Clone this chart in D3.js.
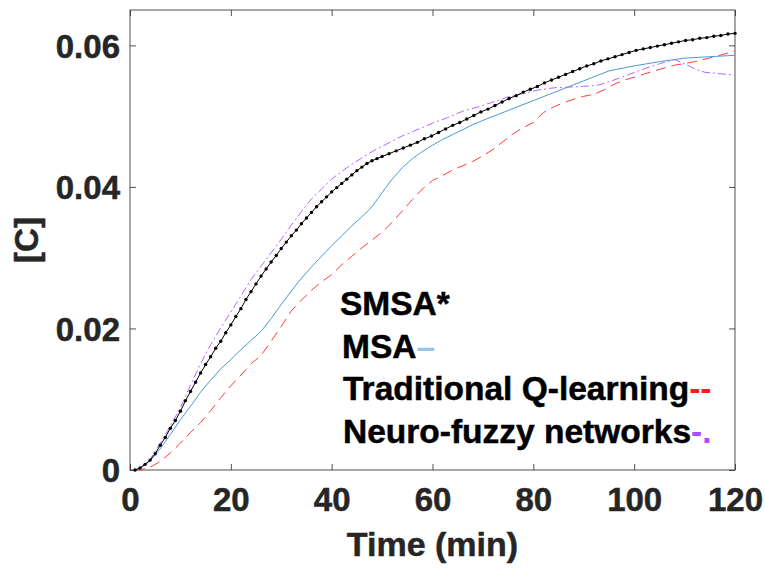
<!DOCTYPE html>
<html>
<head>
<meta charset="utf-8">
<script src="https://cdn.jsdelivr.net/npm/d3@7"></script>
<style>
  html, body { margin: 0; padding: 0; background: #fff; }
  svg { display: block; }
  text { font-family: "Liberation Sans", Arial, Helvetica, sans-serif; font-weight: bold; }
</style>
</head>
<body>
<svg id="chart" width="765" height="572"></svg>
<script>
// Axis ticks
const xTicks = [0, 20, 40, 60, 80, 100, 120];
const yTicks = [0, 0.02, 0.04, 0.06];
const yTickLabels = ["0", "0.02", "0.04", "0.06"];

// SMSA* (marked every sample)
const smsaTime = [1,2,3,4,5,6,7,8,9,10,11,12,13,14,15,16,17,18,19,20,
  21,22,23,24,25,26,27,28,29,30,31,32,33,34,35,36,37,38,39,40,
  41,42,43,44,45,46,47,48,49,50,
  51.4,52.8,54.2,55.6,57,58.4,59.8,61.2,62.6,64,65.4,66.8,68.2,69.6,71,72.4,73.8,75.2,76.6,78,
  79.4,80.8,82.2,83.6,85,86.4,87.8,89.2,90.6,92,93.4,94.8,96.2,97.6,99,100.4,101.8,103.2,104.6,106,
  107.4,108.8,110.2,111.6,113,114.4,115.8,117.2,118.6,120];
const smsaValue = [0.0000,0.0003,0.0008,0.0014,0.0023,0.0035,0.0046,0.0059,0.0070,0.0083,
  0.0098,0.0111,0.0124,0.0137,0.0149,0.0160,0.0172,0.0182,0.0194,0.0205,
  0.0217,0.0228,0.0241,0.0252,0.0263,0.0274,0.0284,0.0294,0.0303,0.0313,
  0.0322,0.0331,0.0339,0.0348,0.0356,0.0364,0.0372,0.0379,0.0386,0.0393,
  0.0399,0.0405,0.0411,0.0417,0.0423,0.0428,0.0433,0.0437,0.0440,0.0443,
  0.0447,0.0451,0.0455,0.0459,0.0463,0.0468,0.0472,0.0477,0.0482,0.0487,
  0.0491,0.0496,0.0501,0.0506,0.0510,0.0515,0.0520,0.0525,0.0529,0.0534,
  0.0538,0.0542,0.0547,0.0551,0.0555,0.0559,0.0563,0.0567,0.0571,0.0574,
  0.0578,0.0581,0.0584,0.0587,0.0590,0.0593,0.0595,0.0597,0.0599,0.0601,
  0.0603,0.0605,0.0607,0.0608,0.0610,0.0611,0.0613,0.0614,0.0616,0.0617];

// MSA
const msaTime = [1,2,4,6,8,10,12,14,16,18,20,22,24,26,28,30,32,34,36,38,40,42,44,46,48,
  50,52,54,56,58,60,62,64,66,68,70,75,80,85,90,95,100,105,110,115,120];
const msaValue = [0,0.0002,0.0013,0.0030,0.0050,0.0071,0.0090,0.0110,0.0127,0.0143,0.0156,
  0.0170,0.0183,0.0196,0.0214,0.0234,0.0253,0.0271,0.0287,0.0302,0.0317,0.0331,0.0345,0.0358,0.0372,
  0.0392,0.0411,0.0427,0.0440,0.0450,0.0459,0.0467,0.0474,0.0481,0.0488,0.0494,
  0.0508,0.0522,0.0536,0.0550,0.0564,0.0571,0.0577,0.0582,0.0584,0.0586];

// Traditional Q-learning
const qlTime = [1,2,4,6,8,10,12,14,16,18,20,22,24,26,28,30,32,34,36,38,40,42,44,46,48,
  50,52,54,56,58,60,62,64,66,68,70,72,74,76,78,80,82,84,86,88,90,92,94,96,98,100,
  104,108,112,116,120];
const qlValue = [0,0,0.0004,0.0012,0.0024,0.0038,0.0053,0.0067,0.0084,0.0102,0.0119,
  0.0134,0.0150,0.0162,0.0182,0.0203,0.0225,0.0240,0.0254,0.0266,0.0276,0.0290,0.0302,0.0314,0.0325,
  0.0336,0.0350,0.0366,0.0382,0.0397,0.0409,0.0416,0.0424,0.0430,0.0436,0.0444,0.0453,0.0464,0.0475,
  0.0484,0.0491,0.0505,0.0513,0.0519,0.0524,0.0528,0.0531,0.0537,0.0545,0.0551,0.0555,
  0.0564,0.0572,0.0577,0.0584,0.0592];

// Neuro-fuzzy networks
const nfTime = [1,2,4,6,8,10,12,14,16,18,20,22,24,26,28,30,32,34,36,38,40,42,44,46,48,
  50,52,54,56,58,60,63,66,69,72,75,78,81,84,87,90,93,96,99,102,105,108,110,112,114,117,120];
const nfValue = [0,0.0002,0.0015,0.0038,0.0062,0.0088,0.0120,0.0150,0.0177,0.0201,0.0223,
  0.0246,0.0269,0.0288,0.0307,0.0326,0.0346,0.0365,0.0383,0.0397,0.0411,0.0422,0.0432,0.0441,0.0450,
  0.0457,0.0465,0.0472,0.0478,0.0484,0.0490,0.0498,0.0507,0.0513,0.0520,0.0527,0.0532,0.0537,0.0540,
  0.0541,0.0542,0.0544,0.0551,0.0559,0.0567,0.0574,0.0580,0.0574,0.0567,0.0562,0.0560,0.0558];

const svg = d3.select("#chart");
const margin = { left: 130, right: 30, top: 10, bottom: 102 };
const W = 765, H = 572;
const x = d3.scaleLinear().domain([0, 120]).range([margin.left, W - margin.right]);
const y = d3.scaleLinear().domain([0, 0.065]).range([H - margin.bottom, margin.top]);

const axisColor = "#262626";
const fontStack = "'Liberation Sans', Arial, Helvetica, sans-serif";

// Frame
svg.append("rect")
  .attr("x", x(0)).attr("y", y(0.065))
  .attr("width", x(120) - x(0)).attr("height", y(0) - y(0.065))
  .attr("fill", "none").attr("stroke", axisColor).attr("stroke-width", 0.8);

// Inward ticks on all four sides
const tickLen = 6;
const bottomAxis = d3.axisBottom(x).tickValues(xTicks).tickSize(-tickLen).tickFormat(d => d);
const topAxis = d3.axisTop(x).tickValues(xTicks).tickSize(-tickLen).tickFormat("");
const leftAxis = d3.axisLeft(y).tickValues(yTicks).tickSize(-tickLen)
  .tickFormat((d, i) => yTickLabels[i]);
const rightAxis = d3.axisRight(y).tickValues(yTicks).tickSize(-tickLen).tickFormat("");

function styleAxis(g) {
  g.select(".domain").remove();
  g.selectAll(".tick line").attr("stroke", axisColor).attr("stroke-width", 0.8);
  g.selectAll(".tick text")
    .attr("fill", axisColor)
    .attr("stroke", axisColor).attr("stroke-width", 0.5)
    .style("font-size", "33px")
    .style("font-weight", "bold")
    .style("font-family", fontStack);
}

svg.append("g").attr("transform", `translate(0,${y(0)})`).call(bottomAxis).call(styleAxis)
  .selectAll(".tick text").attr("y", 18).attr("dy", "0.71em");
svg.append("g").attr("transform", `translate(0,${y(0.065)})`).call(topAxis).call(styleAxis);
svg.append("g").attr("transform", `translate(${x(0)},0)`).call(leftAxis).call(styleAxis)
  .selectAll(".tick text").attr("x", -10).attr("dy", "0.36em");
svg.append("g").attr("transform", `translate(${x(120)},0)`).call(rightAxis).call(styleAxis);

// Axis titles
svg.append("text")
  .attr("x", (x(0) + x(120)) / 2).attr("y", 556)
  .attr("text-anchor", "middle").attr("fill", axisColor)
  .attr("stroke", axisColor).attr("stroke-width", 0.5)
  .style("font-size", "34px").text("Time (min)");
svg.append("text")
  .attr("transform", `translate(38,${(y(0) + y(0.065)) / 2}) rotate(-90)`)
  .attr("text-anchor", "middle").attr("fill", axisColor)
  .attr("stroke", axisColor).attr("stroke-width", 0.5)
  .style("font-size", "33px").text("[C]");

// Series lines
const line = d3.line().x(d => x(d[0])).y(d => y(d[1]));
const zip = (a, b) => a.map((t, i) => [t, b[i]]);

const plot = svg.append("g");

plot.append("path").datum(zip(qlTime, qlValue))
  .attr("d", line).attr("fill", "none")
  .attr("stroke", "#ff3b3b").attr("stroke-width", 1)
  .attr("stroke-dasharray", "10,6");

plot.append("path").datum(zip(msaTime, msaValue))
  .attr("d", line).attr("fill", "none")
  .attr("stroke", "#4a9ad6").attr("stroke-width", 1);

plot.append("path").datum(zip(nfTime, nfValue))
  .attr("d", line).attr("fill", "none")
  .attr("stroke", "#b466ff").attr("stroke-width", 1)
  .attr("stroke-dasharray", "8,3,2,3");

const smsa = zip(smsaTime, smsaValue);
plot.append("path").datum(smsa)
  .attr("d", line).attr("fill", "none")
  .attr("stroke", "#000").attr("stroke-width", 1);
plot.selectAll("circle.smsa").data(smsa).enter().append("circle")
  .attr("class", "smsa")
  .attr("cx", d => x(d[0])).attr("cy", d => y(d[1]))
  .attr("r", 1.7).attr("fill", "#000");

// Legend: names followed by coloured line-style glyphs
const legend = [
  { name: "SMSA*", mark: "", color: "#000" },
  { name: "MSA", mark: "\u2013", color: "#9cc3e8" },
  { name: "Traditional Q-learning", mark: "--", color: "#ff1a1a" },
  { name: "Neuro-fuzzy networks", mark: "-.", color: "#a84dff" }
];
const legendX = [340, 342, 343, 343];
const legendY = [315, 358, 400, 443];
legend.forEach((d, i) => {
  const t = svg.append("text")
    .attr("x", legendX[i]).attr("y", legendY[i])
    .attr("fill", "#000").style("font-size", "33.5px");
  t.append("tspan").attr("stroke", "#000").attr("stroke-width", 0.5).text(d.name);
  if (d.mark) t.append("tspan").attr("fill", d.color).text(d.mark);
});
</script>
</body>
</html>
